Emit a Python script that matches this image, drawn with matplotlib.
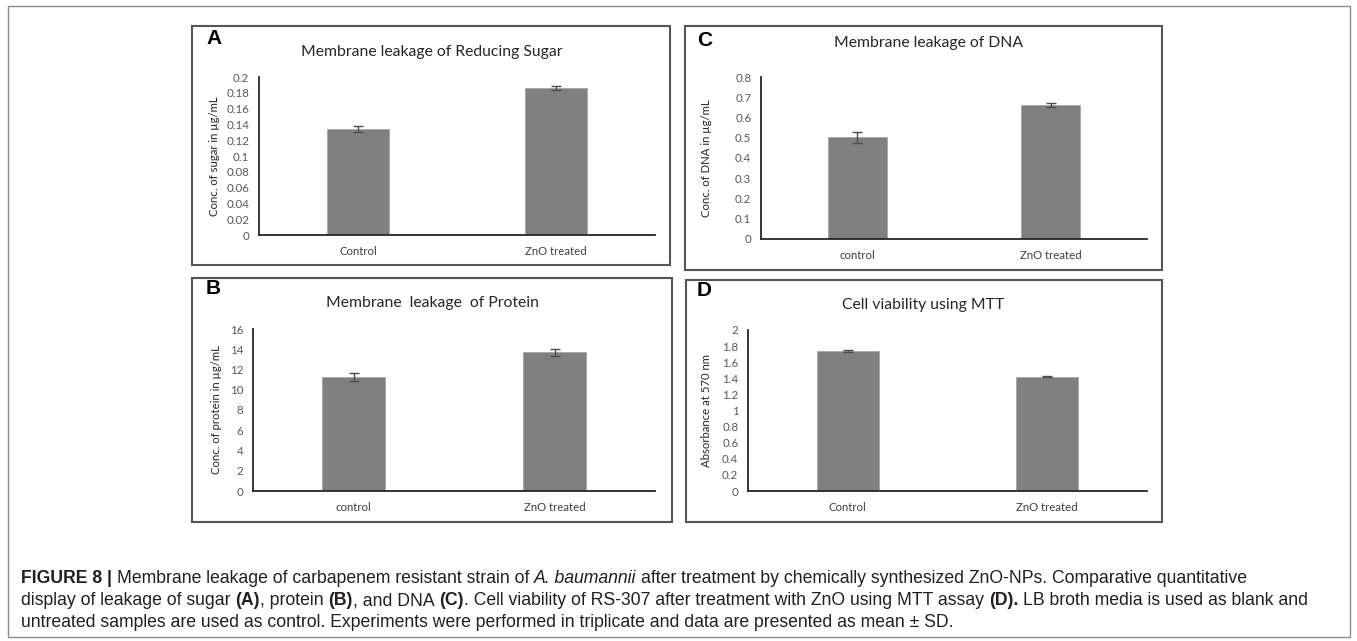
import matplotlib
matplotlib.use("Agg")
import matplotlib.pyplot as plt
from matplotlib.patches import Rectangle
from matplotlib.font_manager import FontProperties

# values (mean and SD)
cats_a = ["Control", "ZnO treated"]
sugar = [0.134, 0.186]
sugar_sd = [0.004, 0.002]

cats_b = ["control", "ZnO treated"]
protein = [11.25, 13.68]
protein_sd = [0.36, 0.33]

cats_c = ["control", "ZnO treated"]
dna = [0.502, 0.662]
dna_sd = [0.027, 0.011]

cats_d = ["Control", "ZnO treated"]
mtt = [1.74, 1.42]
mtt_sd = [0.01, 0.006]

W, H = 1357, 641
fig = plt.figure(figsize=(W / 100, H / 100), dpi=100)
chart_font = "Lato"
cap_font = "Liberation Sans"


def box(l, t, r, b, color="#555555", lw=1.5):
    fig.add_artist(Rectangle((l / W, 1 - b / H), (r - l) / W, (b - t) / H,
                             transform=fig.transFigure, fill=False,
                             ec=color, lw=lw))


def panel(frame, axpos, letter, letter_xy, title, title_xy, ylabel, ylab_x,
          cats, vals, errs, ymax, ystep):
    box(*frame)
    l, t, r, b = axpos
    ax = fig.add_axes([l / W, 1 - b / H, (r - l) / W, (b - t) / H])
    x = list(range(len(cats)))
    ax.bar(x, vals, width=0.31, color="#808080", edgecolor="#a6a6a6", lw=0.6,
           yerr=errs, capsize=3.5,
           error_kw=dict(ecolor="#4d4d4d", elinewidth=1, capthick=1))
    ax.set_xlim(-0.5, len(cats) - 0.5)
    ax.set_ylim(0, ymax)
    n = int(round(ymax / ystep))
    ticks = [round(i * ystep, 4) for i in range(n + 1)]
    ax.set_yticks(ticks)
    ax.set_yticklabels([f"{v:g}" for v in ticks], family=chart_font,
                       fontsize=8.3, color="#595959")
    ax.set_xticks(x)
    ax.set_xticklabels(cats, family=chart_font, fontsize=8.2, color="#404040")
    ax.tick_params(length=0, axis="y", pad=7)
    ax.tick_params(length=0, axis="x", pad=8)
    for s in ["top", "right"]:
        ax.spines[s].set_visible(False)
    for s in ["left", "bottom"]:
        ax.spines[s].set_color("#262626")
        ax.spines[s].set_linewidth(1.3)
    ax.set_ylabel(ylabel, family=chart_font, fontsize=8.2, color="#262626")
    ax.yaxis.set_label_coords((ylab_x - l) / (r - l), 0.5)
    fig.text(title_xy[0] / W, 1 - title_xy[1] / H, title, family=chart_font,
             fontsize=11.3, color="#262626", ha="center", va="center")
    fig.text(letter_xy[0] / W, 1 - letter_xy[1] / H, letter,
             family="Liberation Sans", weight="bold", fontsize=15,
             ha="left", va="center")


# outer frame
box(8, 6, 1350, 637, color="#8c8c8c", lw=1.0)

panel((192, 26, 670, 265), (259, 77, 655, 235), "A", (206, 38),
      "Membrane leakage of Reducing Sugar", (432, 52),
      "Conc. of sugar in µg/mL", 220, cats_a, sugar, sugar_sd, 0.2, 0.02)
panel((685, 26, 1162, 270), (761, 77, 1147, 239), "C", (697, 40),
      "Membrane leakage of DNA", (929, 43),
      "Conc. of DNA in µg/mL", 712, cats_c, dna, dna_sd, 0.8, 0.1)
panel((192, 278, 672, 522), (253, 329, 655, 491), "B", (206, 289),
      "Membrane  leakage  of Protein", (433, 303),
      "Conc. of protein in µg/mL", 222, cats_b, protein, protein_sd, 16, 2)
panel((686, 280, 1162, 522), (748, 330, 1147, 491), "D", (697, 291),
      "Cell viability using MTT", (923, 305),
      "Absorbance at 570 nm", 712, cats_d, mtt, mtt_sd, 2, 0.2)

# caption with mixed styles
cap_lines = [
    [("FIGURE 8 |", "bold", "normal"),
     (" Membrane leakage of carbapenem resistant strain of ", "normal", "normal"),
     ("A. baumannii", "normal", "italic"),
     (" after treatment by chemically synthesized ZnO-NPs. Comparative quantitative", "normal", "normal")],
    [("display of leakage of sugar ", "normal", "normal"),
     ("(A)", "bold", "normal"),
     (", protein ", "normal", "normal"),
     ("(B)", "bold", "normal"),
     (", and DNA ", "normal", "normal"),
     ("(C)", "bold", "normal"),
     (". Cell viability of RS-307 after treatment with ZnO using MTT assay ", "normal", "normal"),
     ("(D).", "bold", "normal"),
     (" LB broth media is used as blank and", "normal", "normal")],
    [("untreated samples are used as control. Experiments were performed in triplicate and data are presented as mean ± SD.", "normal", "normal")],
]
cap_y = [583, 605, 627]
cap_size = 12.7

rend = fig.canvas.get_renderer()
for runs, y in zip(cap_lines, cap_y):
    x = 21
    for s, weight, style in runs:
        fp = FontProperties(family=cap_font, size=cap_size, weight=weight, style=style)
        sp = (rend.get_text_width_height_descent("a a", fp, False)[0]
              - rend.get_text_width_height_descent("aa", fp, False)[0])
        core = s.strip(" ")
        x += (len(s) - len(s.lstrip(" "))) * sp
        fig.text(x / W, 1 - y / H, core, fontproperties=fp, va="baseline",
                 ha="left", color="#231f20")
        x += rend.get_text_width_height_descent(core, fp, False)[0]
        x += (len(s) - len(s.rstrip(" "))) * sp

fig.savefig("out.png", dpi=100)
